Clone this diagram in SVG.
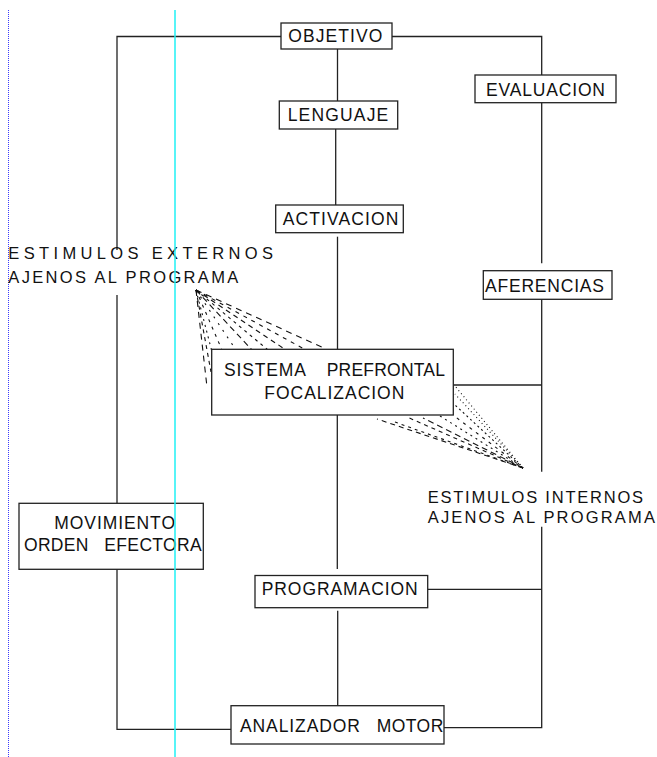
<svg xmlns="http://www.w3.org/2000/svg" width="657" height="757" viewBox="0 0 657 757">
<style>
.box{fill:#fff;stroke:#222;stroke-width:1.3}
.t{font-family:"Liberation Sans",Arial,sans-serif;font-size:17.5px;fill:#111}
.s{font-family:"Liberation Sans",Arial,sans-serif;font-size:16.5px;fill:#111}
.c{fill:none;stroke:#222;stroke-width:1.3}
.f{fill:none;stroke:#111;stroke-width:1.1}
</style>
<rect width="657" height="757" fill="#fff"/>
<line x1="8.5" y1="10" x2="8.5" y2="757" stroke="#3a3aff" stroke-width="1" stroke-dasharray="1 1"/>
<g id="connectors">
<polyline class="c" points="281,36.5 117,36.5 117,250"/>
<line class="c" x1="117" y1="295" x2="117" y2="503.3"/>
<polyline class="c" points="392,36.5 541.7,36.5 541.7,75"/>
<line class="c" x1="337.5" y1="49" x2="337.5" y2="101"/>
<line class="c" x1="335.7" y1="129" x2="335.7" y2="205"/>
<line class="c" x1="337.5" y1="236.7" x2="337.5" y2="349"/>
<line class="c" x1="337.3" y1="415" x2="337.3" y2="569"/>
<line class="c" x1="337.7" y1="610.7" x2="337.7" y2="705.7"/>
<line class="c" x1="541.7" y1="102.7" x2="541.7" y2="263.3"/>
<line class="c" x1="541.7" y1="299.3" x2="541.7" y2="471.7"/>
<line class="c" x1="453.3" y1="385" x2="541.7" y2="385"/>
<polyline class="c" points="541.7,526.7 541.7,727.7 443.3,727.7"/>
<line class="c" x1="427.7" y1="589.3" x2="541.7" y2="589.3"/>
<polyline class="c" points="117,569.3 117,729.3 231,729.3"/>
<g id="fan-externos">
<line class="f" x1="196" y1="290" x2="207" y2="387" stroke-dasharray="6 5"/>
<line class="f" x1="196" y1="290" x2="211" y2="372" stroke-dasharray="4 4"/>
<line class="f" x1="196" y1="290" x2="212" y2="352" stroke-dasharray="2 4"/>
<line class="f" x1="196" y1="290" x2="222" y2="350" stroke-dasharray="3 5"/>
<line class="f" x1="196" y1="290" x2="236" y2="350" stroke-dasharray="2 6"/>
<line class="f" x1="196" y1="290" x2="252" y2="350" stroke-dasharray="6 4"/>
<line class="f" x1="196" y1="290" x2="268" y2="350" stroke-dasharray="3 4"/>
<line class="f" x1="196" y1="290" x2="286" y2="350" stroke-dasharray="5 4"/>
<line class="f" x1="196" y1="290" x2="306" y2="350" stroke-dasharray="4 5"/>
<line class="f" x1="196" y1="290" x2="326" y2="349" stroke-dasharray="6 5"/>
</g>
<g id="fan-internos">
<line class="f" x1="523" y1="468" x2="377" y2="419" stroke-dasharray="5 4"/>
<line class="f" x1="523" y1="468" x2="392" y2="421" stroke-dasharray="3 4"/>
<line class="f" x1="523" y1="468" x2="407" y2="417" stroke-dasharray="4 4"/>
<line class="f" x1="523" y1="468" x2="423" y2="418" stroke-dasharray="6 4"/>
<line class="f" x1="523" y1="468" x2="440" y2="416" stroke-dasharray="2 4"/>
<line class="f" x1="523" y1="468" x2="453" y2="415" stroke-dasharray="3 5"/>
<line class="f" x1="523" y1="468" x2="455" y2="405" stroke-dasharray="2 3"/>
<line class="f" x1="523" y1="468" x2="455" y2="394" stroke-dasharray="1 3"/>
<line class="f" x1="523" y1="468" x2="455" y2="386" stroke-dasharray="1 3"/>
</g>
</g>
<g id="objetivo"><rect class="box" x="281" y="23" width="111" height="26"/><text class="t" x="288.3" y="42" textLength="94" lengthAdjust="spacing">OBJETIVO</text></g>
<g id="lenguaje"><rect class="box" x="279.3" y="101" width="118.4" height="28"/><text class="t" x="287.7" y="120.5" textLength="100.6" lengthAdjust="spacing">LENGUAJE</text></g>
<g id="activacion"><rect class="box" x="275.7" y="205" width="127.6" height="27.7"/><text class="t" x="282.7" y="224.5" textLength="115.6" lengthAdjust="spacing">ACTIVACION</text></g>
<g id="evaluacion"><rect class="box" x="475" y="75" width="141" height="27.7"/><text class="t" x="486" y="96" textLength="119" lengthAdjust="spacing">EVALUACION</text></g>
<g id="aferencias"><rect class="box" x="483.3" y="270.7" width="128.7" height="28.6"/><text class="t" x="485" y="291.7" textLength="119" lengthAdjust="spacing">AFERENCIAS</text></g>
<g id="sistema-prefrontal"><rect class="box" x="211.7" y="349.3" width="241.6" height="65.7"/><text class="t" y="375.5"><tspan x="224" textLength="81" lengthAdjust="spacing">SISTEMA</tspan> <tspan x="326.7" textLength="118.3" lengthAdjust="spacing">PREFRONTAL</tspan></text><text class="t" x="264.3" y="398.5" textLength="140" lengthAdjust="spacing">FOCALIZACION</text></g>
<g id="estimulos-externos"><text class="s" x="8.3" y="259.3" textLength="264.7" lengthAdjust="spacing">ESTIMULOS EXTERNOS</text><text class="s" x="8.3" y="283.3" textLength="230" lengthAdjust="spacing">AJENOS AL PROGRAMA</text></g>
<g id="estimulos-internos"><text class="s" x="427.7" y="502.7" textLength="215.3" lengthAdjust="spacing">ESTIMULOS INTERNOS</text><text class="s" x="427.7" y="523.3" textLength="227.3" lengthAdjust="spacing">AJENOS AL PROGRAMA</text></g>
<g id="movimiento"><rect class="box" x="19" y="503.3" width="184.3" height="66"/><text class="t" x="54.3" y="528.5" textLength="120.7" lengthAdjust="spacing">MOVIMIENTO</text><text class="t" y="550.5"><tspan x="24" textLength="64.3" lengthAdjust="spacing">ORDEN</tspan> <tspan x="104.3" textLength="97.4" lengthAdjust="spacing">EFECTORA</tspan></text></g>
<g id="programacion"><rect class="box" x="255" y="575.5" width="172.7" height="32.2"/><text class="t" x="261.7" y="594.5" textLength="156" lengthAdjust="spacing">PROGRAMACION</text></g>
<g id="analizador-motor"><rect class="box" x="231" y="705.7" width="213" height="38.3"/><text class="t" y="732"><tspan x="240" textLength="120" lengthAdjust="spacing">ANALIZADOR</tspan> <tspan x="376.7" textLength="66.6" lengthAdjust="spacing">MOTOR</tspan></text></g>
<line x1="175" y1="10" x2="175" y2="757" stroke="#1ff0f5" stroke-width="1.5"/>
</svg>
